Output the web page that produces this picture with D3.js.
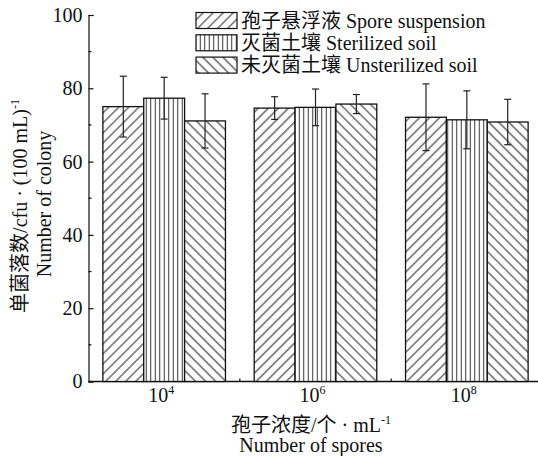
<!DOCTYPE html>
<html>
<head>
<meta charset="utf-8">
<script src="https://cdn.jsdelivr.net/npm/d3@7/dist/d3.min.js"></script>
<style>
  html, body { margin: 0; padding: 0; background: #fff; }
  svg { display: block; }
  text { font-family: "Liberation Serif", "Times New Roman", "Noto Sans CJK SC", serif; fill: #111; }
</style>
</head>
<body>
<svg id="chart" width="538" height="456"></svg>
<script>
// Spore concentration groups (x), treatment series and colony counts (mean, sd)
const groups = ["4", "6", "8"];               // exponent of 10 for each group label
const series = ["spore", "sterile", "unsterile"];
const seriesLabels = ["孢子悬浮液 Spore suspension", "灭菌土壤 Sterilized soil", "未灭菌土壤 Unsterilized soil"];
const sporeMeans     = [75.0, 74.6, 72.1];
const sporeErrors    = [8.3, 3.1, 9.1];
const sterileMeans   = [77.3, 74.8, 71.4];
const sterileErrors  = [5.7, 5.0, 7.9];
const unsterileMeans = [71.1, 75.7, 70.8];
const unsterileErrors= [7.4, 2.6, 6.2];
const yTicks = [0, 20, 40, 60, 80, 100];

const means  = [sporeMeans, sterileMeans, unsterileMeans];
const errors = [sporeErrors, sterileErrors, unsterileErrors];

const svg = d3.select("#chart");
const plotLeft = 88.5, plotBottom = 381.5, plotTop = 15, plotRight = 542.5;

const x = d3.scaleLinear().domain([0.5, groups.length + 0.5]).range([plotLeft, plotRight]);
const y = d3.scaleLinear().domain([0, 100]).range([plotBottom, plotTop]);
const groupWidth = x(2) - x(1);
const sub = d3.scaleBand().domain(series).range([-groupWidth * 0.405, groupWidth * 0.405]).padding(0);

// hatch patterns
const defs = svg.append("defs");
function hatch(id, angle, gap, sw, color) {
  const p = defs.append("pattern")
    .attr("id", id).attr("patternUnits", "userSpaceOnUse")
    .attr("width", gap).attr("height", gap)
    .attr("patternTransform", `rotate(${angle})`);
  p.append("rect").attr("width", gap).attr("height", gap).attr("fill", "#fff");
  p.append("line").attr("x1", gap / 2).attr("x2", gap / 2).attr("y1", 0).attr("y2", gap)
    .attr("stroke", color).attr("stroke-width", sw);
}
hatch("hatch-spore", 45, 7.1, 1, "#222");
hatch("hatch-sterile", 0, 4.5, 1, "#333");
hatch("hatch-unsterile", -45, 7.1, 1, "#222");
const fills = ["url(#hatch-spore)", "url(#hatch-sterile)", "url(#hatch-unsterile)"];

// axes
const yAxis = d3.axisLeft(y).tickValues(yTicks).tickSize(-5).tickPadding(6);
const yg = svg.append("g").attr("transform", `translate(${plotLeft},0)`).call(yAxis);
yg.select(".domain").attr("stroke", "#111").attr("stroke-width", 1.2);
yg.selectAll(".tick line").attr("stroke", "#111").attr("stroke-width", 1.2);
yg.selectAll(".tick text").style("font-size", "20px").attr("fill", "#111");
// minor y ticks
svg.append("g").selectAll("line").data(d3.range(10, 100, 20)).join("line")
  .attr("x1", plotLeft).attr("x2", plotLeft + 3)
  .attr("y1", d => y(d)).attr("y2", d => y(d))
  .attr("stroke", "#111").attr("stroke-width", 1.2);

// x axis
svg.append("line").attr("x1", plotLeft).attr("x2", plotRight).attr("y1", plotBottom).attr("y2", plotBottom)
  .attr("stroke", "#111").attr("stroke-width", 1.4);
svg.append("g").selectAll("line").data([1.5, 2.5]).join("line")
  .attr("x1", d => x(d)).attr("x2", d => x(d))
  .attr("y1", plotBottom).attr("y2", plotBottom - 3)
  .attr("stroke", "#111").attr("stroke-width", 1.2);

// bars
groups.forEach((g, gi) => {
  series.forEach((s, si) => {
    const cx = x(gi + 1) + sub(s);
    const v = means[si][gi], e = errors[si][gi];
    svg.append("rect")
      .attr("x", cx).attr("y", y(v))
      .attr("width", sub.bandwidth()).attr("height", y(0) - y(v))
      .attr("fill", fills[si]).attr("stroke", "#111").attr("stroke-width", 1.3);
    const mx = cx + sub.bandwidth() / 2;
    const eb = svg.append("g").attr("stroke", "#222").attr("stroke-width", 1.2);
    eb.append("line").attr("x1", mx).attr("x2", mx).attr("y1", y(v + e)).attr("y2", y(v - e));
    eb.append("line").attr("x1", mx - 3.5).attr("x2", mx + 3.5).attr("y1", y(v + e)).attr("y2", y(v + e));
    eb.append("line").attr("x1", mx - 3.5).attr("x2", mx + 3.5).attr("y1", y(v - e)).attr("y2", y(v - e));
  });
});

// x tick labels 10^n
groups.forEach((g, gi) => {
  const t = svg.append("text").attr("x", x(gi + 1) - 3).attr("y", 402)
    .attr("text-anchor", "middle").style("font-size", "20px");
  t.append("tspan").text("10");
  t.append("tspan").attr("dy", -8).style("font-size", "12px").text(g);
});

// x title
const xt = svg.append("text").attr("x", 311).attr("y", 432).attr("text-anchor", "middle").style("font-size", "20px");
xt.append("tspan").text("孢子浓度/个 · mL");
xt.append("tspan").attr("dy", -8).style("font-size", "12px").text("-1");
svg.append("text").attr("x", 311).attr("y", 452).attr("text-anchor", "middle")
  .style("font-size", "20px").text("Number of spores");

// y title
const yt = svg.append("text").attr("transform", "translate(27,206) rotate(-90)")
  .attr("text-anchor", "middle").style("font-size", "20px");
yt.append("tspan").text("单菌落数/cfu · (100 mL)");
yt.append("tspan").attr("dy", -8).style("font-size", "12px").text("-1");
svg.append("text").attr("transform", "translate(51,204) rotate(-90)")
  .attr("text-anchor", "middle").style("font-size", "20px").text("Number of colony");

// legend
const leg = svg.append("g");
seriesLabels.forEach((lab, i) => {
  const yy = 12.5 + i * 22.3;
  leg.append("rect").attr("x", 196).attr("y", yy).attr("width", 41).attr("height", 16)
    .attr("fill", fills[i]).attr("stroke", "#111").attr("stroke-width", 1.2);
  leg.append("text").attr("x", 241).attr("y", yy + 15).style("font-size", "20px").text(lab);
});
</script>
</body>
</html>
